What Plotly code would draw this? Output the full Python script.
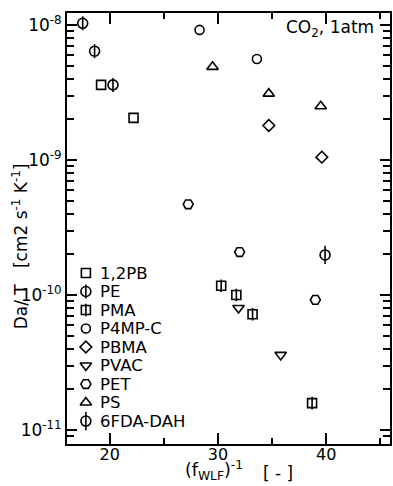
import plotly.graph_objects as go

# Reduced diffusivity Da/T of CO2 (1 atm) against inverse WLF free volume
series_names = ["1,2PB", "PE", "PMA", "P4MP-C", "PBMA", "PVAC", "PET", "PS", "6FDA-DAH"]

x_12pb = [19.2, 22.2]
y_12pb = [3.6e-9, 2.05e-9]

x_pe = [17.5, 18.6, 20.3]
y_pe = [1.03e-8, 6.4e-9, 3.6e-9]

x_pma = [30.3, 31.7, 33.2, 38.7]
y_pma = [1.17e-10, 1.0e-10, 7.2e-11, 1.58e-11]

x_p4mpc = [28.3, 33.6]
y_p4mpc = [9.2e-9, 5.6e-9]

x_pbma = [34.7, 39.6]
y_pbma = [1.8e-9, 1.05e-9]

x_pvac = [31.9, 35.8]
y_pvac = [8.0e-11, 3.6e-11]

x_pet = [27.25, 32.0, 39.0]
y_pet = [4.7e-10, 2.08e-10, 9.2e-11]

x_ps = [29.5, 34.7, 39.5]
y_ps = [4.9e-9, 3.1e-9, 2.5e-9]

x_6fda = [39.9]
y_6fda = [1.98e-10]

x_tick_vals = [20, 30, 40]
x_tick_text = ["20", "30", "40"]
y_tick_vals = [1e-11, 1e-10, 1e-9, 1e-8]
y_tick_text = ["10<sup>-11</sup>", "10<sup>-10</sup>", "10<sup>-9</sup>", "10<sup>-8</sup>"]

data = {
    "1,2PB": (x_12pb, y_12pb),
    "PE": (x_pe, y_pe),
    "PMA": (x_pma, y_pma),
    "P4MP-C": (x_p4mpc, y_p4mpc),
    "PBMA": (x_pbma, y_pbma),
    "PVAC": (x_pvac, y_pvac),
    "PET": (x_pet, y_pet),
    "PS": (x_ps, y_ps),
    "6FDA-DAH": (x_6fda, y_6fda),
}

# Each marker is built from one or more stacked plotly symbols: (symbol, size)
glyphs = {
    "1,2PB": [("square-open", 9)],
    "PE": [("circle-open", 10), ("line-ns-open", 10)],
    "PMA": [("square-open", 9), ("line-ns-open", 9)],
    "P4MP-C": [("circle-open", 9)],
    "PBMA": [("diamond-open", 9)],
    "PVAC": [("triangle-down-open", 10)],
    "PET": [("hexagon2-open", 10)],
    "PS": [("triangle-up-open", 10)],
    "6FDA-DAH": [("circle-open", 10), ("line-ns-open", 13)],
}

INK = "black"
FONT = "DejaVu Sans"

fig = go.Figure()

for name in series_names:
    xs, ys = data[name]
    for sym, size in glyphs[name]:
        fig.add_trace(go.Scatter(
            x=xs, y=ys, mode="markers", name=name, showlegend=False,
            marker=dict(symbol=sym, size=size, color=INK,
                        line=dict(color=INK, width=1.6)),
            xaxis="x", yaxis="y", cliponaxis=False,
        ))

# Key drawn inside the frame on a hidden pixel-like overlay axis
for i, name in enumerate(series_names):
    for sym, size in glyphs[name]:
        fig.add_trace(go.Scatter(
            x=[19], y=[i], mode="markers", showlegend=False,
            marker=dict(symbol=sym, size=size, color=INK,
                        line=dict(color=INK, width=1.6)),
            xaxis="x2", yaxis="y2", cliponaxis=False, hoverinfo="skip",
        ))
    fig.add_annotation(x=31, y=i, xref="x2", yref="y2", text=name,
                       showarrow=False, xanchor="left", yanchor="middle",
                       font=dict(family=FONT, size=16.5, color=INK))

axis_common = dict(showline=True, linecolor=INK, linewidth=1.8, mirror="ticks",
                   ticks="inside", tickcolor=INK, tickwidth=1.5, showgrid=False,
                   zeroline=False)

fig.update_layout(
    width=393, height=486,
    margin=dict(l=67, r=1, t=13, b=42),
    paper_bgcolor="white", plot_bgcolor="white",
    font=dict(family=FONT, size=16, color=INK),
    showlegend=False,
    xaxis=dict(range=[16.05, 45.9], tickmode="array", tickvals=x_tick_vals,
               ticktext=x_tick_text, ticklen=11, ticklabelstandoff=-5,
               minor=dict(dtick=5, tick0=0, ticks="inside", ticklen=6,
                          tickcolor=INK, tickwidth=1.5),
               tickfont=dict(size=16), **axis_common),
    yaxis=dict(type="log", range=[-11.104, -7.911], tickmode="array",
               tickvals=y_tick_vals, ticktext=y_tick_text, ticklen=10,
               minor=dict(dtick="D1", ticks="inside", ticklen=7,
                          tickcolor=INK, tickwidth=1.5),
               tickfont=dict(size=17), **axis_common),
    xaxis2=dict(domain=[0, 1], range=[0, 325], anchor="y2", visible=False,
                overlaying="x"),
    yaxis2=dict(domain=[0, 1], range=[9.24, -14.05], anchor="x2", visible=False,
                overlaying="y"),
)

fig.add_annotation(
    text="CO<sub>2</sub>, 1atm", xref="paper", yref="paper",
    x=0.957, y=0.963, xanchor="right", yanchor="middle", showarrow=False,
    font=dict(family=FONT, size=17, color=INK),
)
# x-axis title: quantity and its unit bracket
fig.add_annotation(
    text="(f<sub>WLF</sub>)<sup>-1</sup>", xref="paper", yref="paper",
    x=0.36, y=-0.095, xanchor="left", yanchor="bottom", showarrow=False,
    font=dict(family=FONT, size=17.5, color=INK),
)
fig.add_annotation(
    text="[ - ]", xref="paper", yref="paper",
    x=0.60, y=-0.095, xanchor="left", yanchor="bottom", showarrow=False,
    font=dict(family=FONT, size=17, color=INK),
)
fig.add_annotation(
    text="Da/ T   [cm2 s<sup>-1</sup> K<sup>-1</sup>]", xref="paper", yref="paper",
    x=-0.145, y=0.459, xanchor="center", yanchor="middle", textangle=-90,
    showarrow=False, font=dict(family=FONT, size=17, color=INK),
)

fig.write_html("out.html")
